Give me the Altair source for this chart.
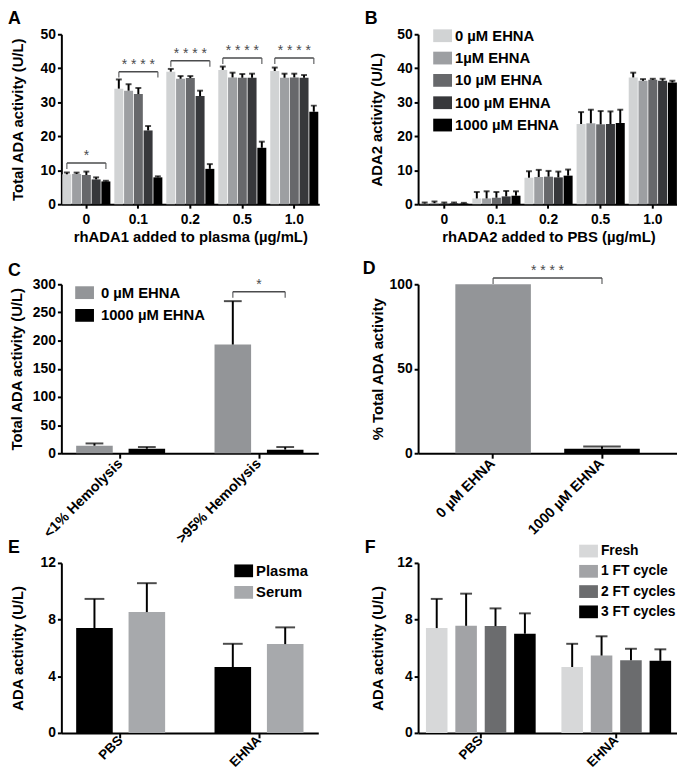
import altair as alt
import pandas as pd

FONT = "Liberation Sans"
SIG = "#4a4b4d"
RECT = "M-1,-0.68H1V0.68H-1Z"

# ---------------- Panel A ----------------
a_doses = ["0", "0.1", "0.2", "0.5", "1.0"]
ehna_levels = ["0 µM EHNA", "1µM EHNA", "10 µM EHNA", "100 µM EHNA", "1000 µM EHNA"]
a_mean = [
    [8.8, 8.9, 8.6, 7.3, 6.7],
    [34.0, 33.4, 32.4, 21.7, 7.9],
    [39.0, 36.9, 37.1, 31.8, 10.4],
    [39.5, 37.3, 37.2, 37.2, 16.6],
    [39.2, 37.2, 37.3, 37.2, 27.2],
]
a_sem = [
    [0.5, 0.4, 1.0, 0.6, 0.2],
    [2.7, 1.9, 1.8, 1.3, 0.3],
    [0.8, 0.8, 0.6, 1.6, 1.4],
    [1.0, 1.4, 1.1, 1.2, 1.8],
    [1.0, 1.2, 1.1, 0.8, 1.8],
]
a_sig_y = [12.1, 39.0, 42.2, 43.0, 43.0]
a_sig_text = ["*", "****", "****", "****", "****"]
ehna_colors = ["#d1d3d4", "#9d9fa2", "#67686b", "#37383b", "#000000"]

# ---------------- Panel B ----------------
b_doses = ["0", "0.1", "0.2", "0.5", "1.0"]
b_mean = [
    [0.2, 0.3, 0.2, 0.3, 0.2],
    [1.7, 1.7, 1.9, 2.3, 2.5],
    [7.8, 8.0, 8.1, 7.9, 8.4],
    [23.6, 23.8, 23.5, 23.6, 23.9],
    [37.3, 36.3, 36.6, 36.3, 35.8],
]
b_sem = [
    [0.3, 0.5, 0.3, 0.2, 0.2],
    [1.9, 2.1, 1.7, 1.6, 1.3],
    [1.9, 2.1, 1.7, 1.7, 1.8],
    [3.5, 4.0, 3.9, 3.7, 3.9],
    [1.4, 0.5, 0.3, 0.6, 0.5],
]

# ---------------- Panel C ----------------
c_groups = ["<1% Hemolysis", ">95% Hemolysis"]
c_series = ["0 µM EHNA", "1000 µM EHNA"]
c_mean = [[13.4, 8.0], [193.0, 6.4]]
c_sem = [[4.0, 3.0], [77.0, 4.6]]
c_colors = ["#939598", "#000000"]
c_sig_group = ">95% Hemolysis"
c_sig_y = 286.5

# ---------------- Panel D ----------------
d_groups = ["0 µM EHNA", "1000 µM EHNA"]
d_mean = [100.0, 2.6]
d_sem = [0.0, 1.4]
d_colors = ["#939598", "#000000"]
d_sig_y = 103.7

# ---------------- Panel E ----------------
e_groups = ["PBS", "EHNA"]
e_series = ["Plasma", "Serum"]
e_mean = [[7.4, 8.53], [4.65, 6.27]]
e_sem = [[2.06, 2.04], [1.64, 1.18]]
e_colors = ["#000000", "#a7a9ac"]

# ---------------- Panel F ----------------
f_groups = ["PBS", "EHNA"]
f_series = ["Fresh", "1 FT cycle", "2 FT cycles", "3 FT cycles"]
f_mean = [[7.4, 7.56, 7.54, 7.0], [4.65, 5.46, 5.13, 5.09]]
f_sem = [[2.06, 2.27, 1.25, 1.44], [1.64, 1.36, 0.81, 0.81]]
f_colors = ["#d7d8d9", "#a2a3a6", "#6b6c6e", "#000000"]


def letter_layer(letter, ly, lx=-54):
    return alt.Chart(pd.DataFrame({"t": [letter]})).mark_text(
        font=FONT, fontSize=18, fontWeight="bold", align="left",
        baseline="alphabetic", color="black"
    ).encode(x=alt.value(lx), y=alt.value(ly), text="t:N")


def x_axis(width, angle, xtitle, lab_size=14.5, lab_pad=3):
    kw = dict(tickSize=4, labelPadding=5, labelOverlap=False)
    if angle:
        kw.update(labelAngle=315, labelAlign="right", labelBaseline="middle",
                  labelFontSize=lab_size, labelPadding=lab_pad, tickSize=5)
    else:
        kw.update(labelAngle=0, labelAlign="center", labelBaseline="top")
    if xtitle:
        kw.update(titleX=width / 2, titleY=33, titleAlign="center",
                  titleBaseline="middle", titleAngle=0)
    return alt.Axis(**kw)


def y_axis(height, yticks, ytitle_x):
    return alt.Axis(values=yticks, titleX=ytitle_x, titleY=height / 2,
                    titleAngle=270, titleAlign="center", titleBaseline="middle",
                    labelPadding=2, tickSize=4, labelOverlap=False)


def grouped_panel(groups, series, means, sems, colors, *, width, height,
                  ydomain, yticks, ytitle, ytitle_x, xtitle, xpad, opad, cap,
                  angle, legend, letter, letter_y, extra=(), lab_size=14.5, lab_pad=3):
    rows = []
    for g, ms, es in zip(groups, means, sems):
        for s, m, e in zip(series, ms, es):
            rows.append({"g": g, "s": s, "v": m, "top": m + e, "err": e})
    df = pd.DataFrame(rows)

    x = alt.X("g:N", sort=groups,
              scale=alt.Scale(domain=groups, paddingInner=xpad[0], paddingOuter=xpad[1]),
              axis=x_axis(width, angle, xtitle, lab_size, lab_pad), title=xtitle)
    xo = alt.XOffset("s:N", sort=series,
                     scale=alt.Scale(domain=series, paddingInner=opad[0], paddingOuter=opad[1]))
    ysc = alt.Scale(domain=ydomain, nice=False, zero=True)
    yax = y_axis(height, yticks, ytitle_x)

    def Y(f):
        return alt.Y(f, scale=ysc, axis=yax, title=ytitle)

    color = alt.Color("s:N", sort=series,
                      scale=alt.Scale(domain=series, range=colors), legend=legend)

    bars = alt.Chart(df).mark_bar().encode(x=x, xOffset=xo, y=Y("v:Q"), color=color)
    dfe = df[df.err > 0]
    errs = alt.Chart(dfe).mark_rule(color="black", strokeWidth=2).encode(
        x=x, xOffset=xo, y=Y("v:Q"), y2="top:Q")
    caps = alt.Chart(dfe).mark_tick(color="black", thickness=2, size=cap,
                                    orient="horizontal").encode(
        x=x, xOffset=xo, y=Y("top:Q"))
    layers = [bars, errs, caps]
    for fn in extra:
        layers += fn(x, xo, Y)
    layers.append(letter_layer(letter, letter_y))
    return alt.layer(*layers).properties(width=width, height=height)


def bracket_layers(sig_groups, sig_y, sig_text, first, last, half):
    sdf = pd.DataFrame({"g": sig_groups, "y": sig_y,
                        "t": [" ".join(list(t)) for t in sig_text]})
    ends = []
    for g, yv in zip(sig_groups, sig_y):
        ends.append({"g": g, "s": first, "y": yv})
        ends.append({"g": g, "s": last, "y": yv})
    edf = pd.DataFrame(ends)

    def fn(x, xo, Y):
        rule = alt.Chart(sdf).mark_rule(color=SIG, strokeWidth=1.5,
                                        xOffset=-half, x2Offset=half).encode(
            x=x, x2=alt.X2("g"), y=Y("y:Q"))
        endt = alt.Chart(edf).mark_tick(color=SIG, thickness=1.5, size=6,
                                        orient="vertical", yOffset=3).encode(
            x=x, xOffset=xo, y=Y("y:Q"))
        star = alt.Chart(sdf).mark_text(font=FONT, fontSize=14, color=SIG,
                                        baseline="alphabetic", dy=-3).encode(
            x=x, y=Y("y:Q"), text="t:N")
        return [rule, endt, star]
    return fn


def leg(lx, ly, row_pad, lab_off, size=15):
    return alt.Legend(orient="none", legendX=lx, legendY=ly, title=None,
                      symbolType=RECT, symbolSize=361, symbolStrokeWidth=0,
                      symbolOpacity=1, labelFont=FONT, labelFontSize=size,
                      labelFontWeight="bold", labelColor="black",
                      labelOffset=lab_off, rowPadding=row_pad, padding=0)


# ---- A ----
A = grouped_panel(
    a_doses, ehna_levels, a_mean, a_sem, ehna_colors,
    width=261, height=172, ydomain=[0, 50], yticks=[0, 10, 20, 30, 40, 50],
    ytitle="Total ADA activity (U/L)", ytitle_x=-44,
    xtitle="rhADA1 added to plasma (µg/mL)", xpad=(0.076, 0.019), opad=(0.08, 0),
    cap=6, angle=False, legend=None, letter="A", letter_y=-10,
    extra=[bracket_layers(a_doses, a_sig_y, a_sig_text, ehna_levels[0],
                          ehna_levels[-1], 19.7)])

# ---- B ----
B = grouped_panel(
    b_doses, ehna_levels, b_mean, b_sem, ehna_colors,
    width=264, height=172, ydomain=[0, 50], yticks=[0, 10, 20, 30, 40, 50],
    ytitle="ADA2 activity  (U/L)", ytitle_x=-42,
    xtitle="rhADA2 added to PBS (µg/mL)", xpad=(0.076, 0.04), opad=(0.08, 0),
    cap=6, angle=False, legend=leg(15.3, -8, 4.6, 3), letter="B", letter_y=-10)

# ---- C ----
C = grouped_panel(
    c_groups, c_series, c_mean, c_sem, c_colors,
    width=260, height=171, ydomain=[0, 300], yticks=[0, 50, 100, 150, 200, 250, 300],
    ytitle="Total ADA activity (U/L)", ytitle_x=-45,
    xtitle=None, xpad=(0.357, 0.107), opad=(0.302, 0),
    cap=18, angle=True, legend=leg(14, -1, 5, 7), letter="C", letter_y=-8,
    extra=[bracket_layers([c_sig_group], [c_sig_y], ["*"], c_series[0],
                          c_series[-1], 26.5)])

# ---- D ----
d_df = pd.DataFrame({"g": d_groups, "v": d_mean,
                     "top": [m + e for m, e in zip(d_mean, d_sem)], "err": d_sem})
D_W, D_H = 262, 171
d_xscale = alt.Scale(domain=d_groups, paddingInner=0.306, paddingOuter=0.342)


def DX(f):
    return alt.X(f, sort=d_groups, scale=d_xscale, axis=x_axis(D_W, True, None), title=None)


d_ysc = alt.Scale(domain=[0, 100], nice=False, zero=True)
d_yax = y_axis(D_H, [0, 50, 100], -41)


def DY(f):
    return alt.Y(f, scale=d_ysc, axis=d_yax, title="% Total ADA activity")


d_bars = alt.Chart(d_df).mark_bar().encode(
    x=DX("g:N"), y=DY("v:Q"),
    color=alt.Color("g:N", scale=alt.Scale(domain=d_groups, range=d_colors), legend=None))
d_dfe = d_df[d_df.err > 0]
d_err = alt.Chart(d_dfe).mark_rule(color="black", strokeWidth=2).encode(
    x=DX("g:N"), y=DY("v:Q"), y2="top:Q")
d_cap = alt.Chart(d_dfe).mark_tick(color="black", thickness=2, size=38,
                                   orient="horizontal").encode(x=DX("g:N"), y=DY("top:Q"))
d_sig = pd.DataFrame({"a": [d_groups[0]], "b": [d_groups[1]], "y": [d_sig_y],
                      "t": ["* * * *"]})
d_ends = pd.DataFrame({"g": d_groups, "y": [d_sig_y, d_sig_y]})
d_rule = alt.Chart(d_sig).mark_rule(color=SIG, strokeWidth=1.5).encode(
    x=DX("a:N"), x2=alt.X2("b"), y=DY("y:Q"))
d_endt = alt.Chart(d_ends).mark_tick(color=SIG, thickness=1.5, size=6,
                                     orient="vertical", yOffset=3).encode(x=DX("g:N"), y=DY("y:Q"))
d_star = alt.Chart(d_sig).mark_text(font=FONT, fontSize=14, color=SIG,
                                    baseline="alphabetic", dy=-3, dx=55).encode(
    x=DX("a:N"), y=DY("y:Q"), text="t:N")
D = alt.layer(d_bars, d_err, d_cap, d_rule, d_endt, d_star,
              letter_layer("D", -10, -56)).properties(width=D_W, height=D_H)

# ---- E ----
E = grouped_panel(
    e_groups, e_series, e_mean, e_sem, e_colors,
    width=260, height=172, ydomain=[0, 12], yticks=[0, 4, 8, 12],
    ytitle="ADA activity (U/L)", ytitle_x=-44,
    xtitle=None, xpad=(0.357, 0.107), opad=(0.302, 0),
    cap=20, angle=True, legend=leg(175, -1.5, 3.8, 3), letter="E", letter_y=-10,
    lab_size=13.5, lab_pad=0)

# ---- F ----
F = grouped_panel(
    f_groups, f_series, f_mean, f_sem, f_colors,
    width=264, height=172, ydomain=[0, 12], yticks=[0, 4, 8, 12],
    ytitle="ADA activity (U/L)", ytitle_x=-41,
    xtitle=None, xpad=(0.19, 0.058), opad=(0.267, 0),
    cap=12, angle=True, legend=leg(163, -21.5, 3.5, 3, 14), letter="F", letter_y=-10,
    lab_size=13.5, lab_pad=0)


def spacer(h):
    return alt.Chart(pd.DataFrame({"v": [0]})).mark_point(opacity=0).encode(
        x=alt.value(0), y=alt.value(0)).properties(width=1, height=h)


chart = alt.concat(
    A, B, spacer(81), spacer(81), C, D, spacer(111), spacer(111), E, F,
    columns=2, spacing={"row": 0, "column": 100}, bounds="flush",
    autosize=alt.AutoSizeParams(type="none"),
    padding={"left": 54, "top": 22, "right": 623, "bottom": 741},
).resolve_scale(
    x="independent", y="independent", color="independent", xOffset="independent"
).resolve_legend(color="independent").configure_view(strokeWidth=0).configure_axis(
    domainColor="black", domainWidth=2, tickColor="black", tickWidth=2,
    labelFont=FONT, labelFontSize=14, labelFontWeight="bold", labelColor="black",
    titleFont=FONT, titleFontSize=15, titleFontWeight="bold", titleColor="black",
    grid=False,
)

chart.save("out.html", embed_options={"renderer": "svg", "actions": False})
